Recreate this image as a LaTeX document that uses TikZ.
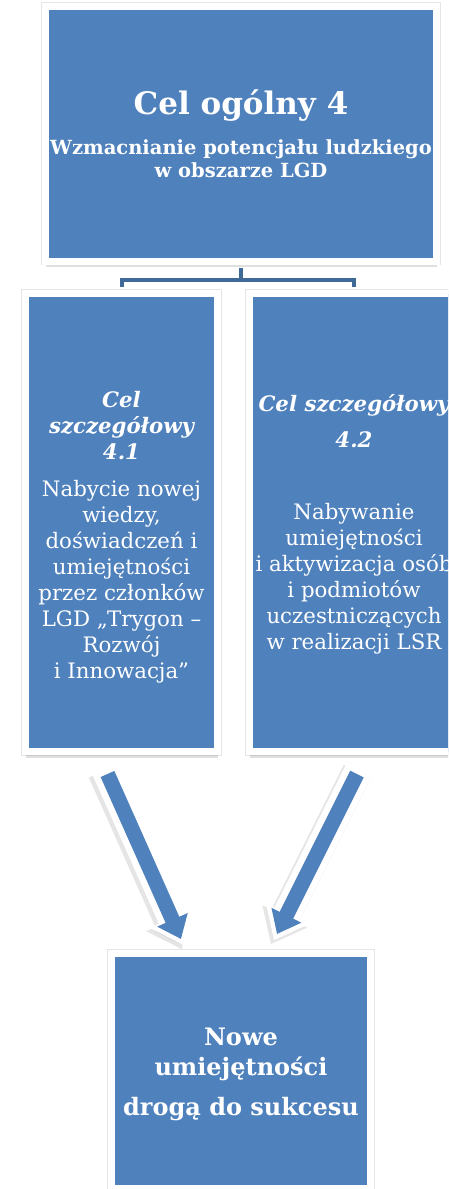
\documentclass[tikz,border=0pt]{standalone}
\usepackage{fontspec}
\setmainfont{DejaVu Serif}
\usetikzlibrary{calc, shadows, arrows.meta}

\definecolor{goalblue}{HTML}{4F81BD}
\definecolor{linkblue}{HTML}{3F6A98}

\tikzset{
  goal/.style={fill=goalblue, draw=white, line width=7pt, text=white,
    align=center, inner sep=0pt,
    preaction={draw=black!10, line width=8.5pt},
    drop shadow={shadow xshift=0pt, shadow yshift=-6pt, opacity=0.25}},
  link/.style={draw=linkblue, line width=4pt},
  flowshade/.style={draw=black, opacity=0.1, line width=30pt,
    -{Triangle[width=48pt,length=31pt]}, shorten <=-6pt, shorten >=-8pt,
    transform canvas={shift={(-2.5pt,-3pt)}}},
  flowrim/.style={draw=white, line width=28pt,
    -{Triangle[width=46pt,length=30pt]}, shorten <=-6pt, shorten >=-7pt},
  flow/.style={draw=goalblue, line width=15pt,
    -{Triangle[width=32pt,length=21pt]}}
}

\begin{document}
\begin{tikzpicture}[x=1pt, y=-1pt]
    \useasboundingbox (0,0) rectangle (448,1189);
    \clip (0,0) rectangle (448,1189);

    % main goal
    \node[goal, minimum width=391pt, minimum height=254.5pt,
      font=\fontsize{19.5}{23.5}\selectfont\bfseries] (main) at (241,133.75)
      {{\fontsize{31}{34}\selectfont Cel ogólny 4}\\[16pt]
       Wzmacnianie potencjału ludzkiego\\
       w obszarze LGD};

    % specific goals
    \node[goal, minimum width=192pt, minimum height=458pt,
      font=\fontsize{21.3}{26}\selectfont] (sc1) at (121.5,522.5)
      {\mbox{}\\[19pt]
       {\bfseries\itshape Cel}\\
       {\bfseries\itshape szczegółowy}\\
       {\bfseries\itshape 4.1}\\[11pt]
       Nabycie nowej\\
       wiedzy,\\
       doświadczeń i\\
       umiejętności\\
       przez członków\\
       LGD „Trygon –\\
       Rozwój\\
       i Innowacja”};
    \node[goal, minimum width=209pt, minimum height=458pt,
      font=\fontsize{21.3}{26}\selectfont] (sc2) at (354,522.5)
      {\mbox{}\\[-5.5pt]
       {\bfseries\itshape Cel szczegółowy}\\[10pt]
       {\bfseries\itshape 4.2}\\[46pt]
       Nabywanie\\
       umiejętności\\
       i aktywizacja osób\\
       i podmiotów\\
       uczestniczących\\
       w realizacji LSR};

    % result
    \node[goal, minimum width=259pt, minimum height=235pt,
      font=\fontsize{24}{30}\selectfont\bfseries] (result) at (241,1071)
      {\mbox{}\\[-6pt]
       Nowe\\
       umiejętności\\[10pt]
       drogą do sukcesu};

    \draw[link, shorten <=3.5pt] (main.south) -- ++(0,15) coordinate (split);
    \draw[link, shorten <=3.5pt, shorten >=3.5pt]
      (sc1.north) |- (split) -| (sc2.north);

    \coordinate (a1from) at ($(sc1.south)+(-14,19)$);
    \coordinate (a1to) at ($(result.north)+(-60,-11)$);
    \coordinate (a2from) at ($(sc2.south)+(3,19)$);
    \coordinate (a2to) at ($(result.north)+(36,-16)$);
    \foreach \from/\to in {a1from/a1to, a2from/a2to} {
      \draw[flowshade] (\from) -- (\to);
      \draw[flowrim] (\from) -- (\to);
      \draw[flow] (\from) -- (\to);
    }
\end{tikzpicture}
\end{document}
